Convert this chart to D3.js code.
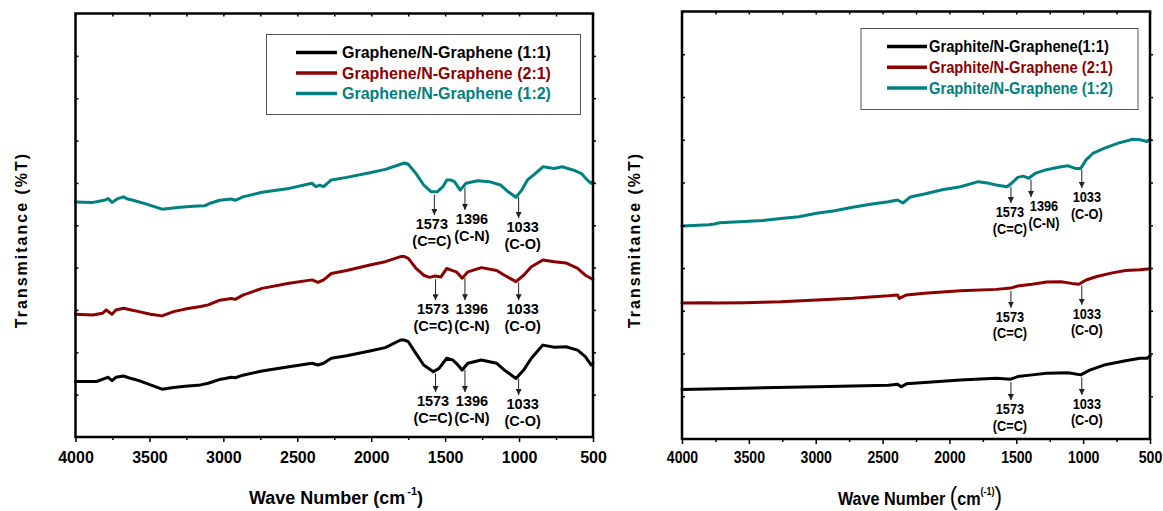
<!DOCTYPE html>
<html>
<head>
<meta charset="utf-8">
<script src="https://cdn.jsdelivr.net/npm/d3@7/dist/d3.min.js"></script>
<style>
html,body{margin:0;padding:0;background:#fff;}
svg{display:block;}
</style>
</head>
<body>
<svg id="chart" width="1163" height="511"></svg>
<script>
// ---------------- data ----------------
const xTickValues = [4000, 3500, 3000, 2500, 2000, 1500, 1000, 500];
const xMinorValues = [3750, 3250, 2750, 2250, 1750, 1250, 750];
const yTickValues = [10, 20, 30, 40, 50, 60, 70, 80, 90];

const leftLegend = ["Graphene/N-Graphene (1:1)", "Graphene/N-Graphene (2:1)", "Graphene/N-Graphene (1:2)"];
const rightLegend = ["Graphite/N-Graphene(1:1)", "Graphite/N-Graphene (2:1)", "Graphite/N-Graphene (1:2)"];

// Left panel: Graphene / N-Graphene (wavenumber cm-1, transmittance a.u.)
const leftBlack = [[4000,13.1],[3857,13.1],[3805,13.8],[3779,14.1],[3753,13.3],[3727,14.1],[3675,14.4],[3623,13.8],[3571,13.3],[3493,12.3],[3415,11.3],[3337,11.7],[3259,12.0],[3154,12.3],[3102,12.7],[3024,13.6],[2946,14.1],[2920,14.0],[2868,14.6],[2738,15.6],[2556,16.6],[2400,17.4],[2361,17.0],[2322,17.4],[2270,18.6],[2166,19.2],[2009,20.3],[1905,21.1],[1801,22.9],[1775,22.9],[1749,22.5],[1697,19.7],[1645,17.0],[1580,15.4],[1541,16.2],[1489,18.6],[1450,18.2],[1424,17.4],[1385,15.8],[1346,17.4],[1255,18.2],[1151,17.4],[1099,15.8],[1021,13.8],[969,15.8],[917,18.6],[839,21.7],[761,21.2],[683,21.3],[604,20.5],[552,19.0],[513,17.0],[500,17.4]];
const leftRed = [[4000,29.0],[3883,28.8],[3818,29.2],[3792,30.0],[3753,29.0],[3727,30.0],[3675,30.4],[3623,30.0],[3571,29.6],[3493,29.0],[3415,28.6],[3337,29.6],[3259,30.2],[3154,30.8],[3102,31.2],[3024,32.3],[2946,32.7],[2920,32.5],[2868,33.5],[2738,35.1],[2556,36.3],[2400,37.1],[2361,36.5],[2322,37.1],[2270,38.6],[2166,39.3],[2009,40.6],[1905,41.4],[1801,42.6],[1775,42.6],[1749,42.2],[1697,39.8],[1645,38.2],[1606,37.7],[1567,38.0],[1528,37.8],[1489,39.8],[1450,39.3],[1424,39.0],[1385,37.5],[1346,39.0],[1255,40.0],[1151,39.3],[1099,38.2],[1021,36.7],[969,38.2],[917,40.2],[839,41.8],[761,41.4],[683,41.1],[604,39.8],[552,38.2],[500,37.2]];
const leftTeal = [[4000,55.5],[3883,55.4],[3805,55.9],[3779,56.3],[3753,55.4],[3714,56.3],[3675,56.7],[3649,56.2],[3610,55.9],[3519,55.0],[3415,53.8],[3310,54.2],[3206,54.5],[3128,54.6],[3089,55.2],[3024,55.9],[2946,56.2],[2920,55.9],[2868,56.7],[2738,57.8],[2556,58.7],[2400,59.9],[2374,59.1],[2348,59.5],[2322,59.1],[2270,60.7],[2166,61.3],[2009,62.4],[1905,63.2],[1801,64.4],[1775,64.7],[1749,64.4],[1697,62.2],[1645,59.5],[1593,57.9],[1554,57.9],[1515,59.1],[1489,60.7],[1463,60.7],[1437,60.3],[1398,58.3],[1359,59.9],[1281,60.5],[1203,60.3],[1125,59.5],[1073,57.9],[1021,56.6],[982,58.3],[943,60.7],[891,62.2],[839,63.8],[761,63.4],[709,63.8],[630,63.0],[578,62.2],[539,60.7],[513,59.9],[500,60.3]];

// Right panel: Graphite / N-Graphene
const rightBlack = [[4000,11.6],[3530,11.9],[2993,12.2],[2456,12.6],[2388,12.8],[2361,12.2],[2321,12.9],[1918,13.8],[1650,14.2],[1542,14.0],[1489,14.6],[1381,15.0],[1274,15.4],[1112,15.5],[1018,15.0],[951,16.1],[844,17.3],[683,18.3],[575,18.9],[522,18.9],[500,19.4]];
const rightRed = [[4000,31.8],[3799,31.9],[3745,31.8],[3530,31.9],[3396,32.0],[3261,32.1],[2993,32.5],[2724,32.9],[2456,33.5],[2388,33.7],[2375,32.9],[2321,33.7],[2187,34.1],[1918,34.7],[1650,35.0],[1542,35.3],[1489,35.8],[1381,36.2],[1274,36.7],[1166,36.8],[1086,36.4],[1032,36.2],[978,37.2],[898,38.0],[790,38.8],[683,39.4],[575,39.6],[500,39.8]];
const rightTeal = [[4000,49.8],[3799,50.1],[3758,50.3],[3718,50.6],[3530,50.9],[3396,51.1],[3261,51.6],[3127,52.0],[2993,52.8],[2858,53.4],[2724,54.2],[2590,54.9],[2456,55.5],[2388,55.9],[2348,55.2],[2294,56.6],[2187,57.3],[2053,58.3],[1918,59.0],[1784,60.2],[1703,59.8],[1650,59.4],[1569,59.0],[1529,60.0],[1489,61.2],[1448,61.5],[1408,61.0],[1354,62.2],[1274,63.0],[1166,63.7],[1112,63.9],[1059,63.3],[1018,63.3],[978,65.3],[924,66.9],[844,68.0],[737,69.2],[629,70.1],[575,70.0],[522,69.6],[500,70.1]];

// Peak annotations: series index (0 black, 1 red, 2 teal), arrow wavenumber, labels, arrow tip value
const leftPeaks = [
  {s:2, at:1573, num:"1573", bond:"(C=C)", tip:52.4},
  {s:2, at:1366, num:"1396", bond:"(C-N)", tip:53.6},
  {s:2, at:1003, num:"1033", bond:"(C-O)", tip:51.7},
  {s:1, at:1565, num:"1573", bond:"(C=C)", tip:32.3},
  {s:1, at:1366, num:"1396", bond:"(C-N)", tip:32.3},
  {s:1, at:1003, num:"1033", bond:"(C-O)", tip:32.3},
  {s:0, at:1565, num:"1573", bond:"(C=C)", tip:10.6},
  {s:0, at:1366, num:"1396", bond:"(C-N)", tip:10.6},
  {s:0, at:1003, num:"1033", bond:"(C-O)", tip:9.9}
];
const rightPeaks = [
  {s:2, at:1540, num:"1573", bond:"(C=C)", tip:55.2},
  {s:2, at:1390, num:"1396", bond:"(C-N)", tip:56.6},
  {s:2, at:1010, num:"1033", bond:"(C-O)", tip:58.7},
  {s:1, at:1540, num:"1573", bond:"(C=C)", tip:30.7},
  {s:1, at:1010, num:"1033", bond:"(C-O)", tip:31.4},
  {s:0, at:1540, num:"1573", bond:"(C=C)", tip:9.1},
  {s:0, at:1010, num:"1033", bond:"(C-O)", tip:10.3}
];

// ---------------- layout / style ----------------
const colors = ["#000000", "#8b0000", "#008080"];
const FONT = "'Liberation Sans', Arial, Helvetica, sans-serif";
// horizontal nudges (px) of peak labels relative to their arrows
const leftLabelShift = {"1573": -2.5, "1396": 7, "1033": 4};
const rightLabelShift = {"1573": -1, "1396": 13, "1033": 5};

const svg = d3.select("#chart");

const defs = svg.append("defs");
defs.append("marker").attr("id","arrow").attr("viewBox","0 0 8 8")
  .attr("refX",8).attr("refY",4).attr("markerWidth",6).attr("markerHeight",6)
  .attr("markerUnits","userSpaceOnUse").attr("orient","auto")
  .append("path").attr("d","M0,0 L8,4 L0,8 Z").attr("fill","#222");

function label(parent, x, y, str, size, sx, anchor, color){
  const g = parent.append("g").attr("transform", `translate(${x},${y}) scale(${sx},1)`);
  return g.append("text").attr("text-anchor", anchor || "middle")
    .attr("font-family", FONT).attr("font-weight","bold").attr("font-size", size)
    .attr("fill", color || "#000").text(str);
}

function valueAt(series, wn){
  for (let i = 0; i < series.length - 1; i++){
    const a = series[i], b = series[i+1];
    if (wn <= a[0] && wn >= b[0]){
      const t = (a[0] - wn) / (a[0] - b[0]);
      return a[1] + t * (b[1] - a[1]);
    }
  }
  return series[series.length-1][1];
}

function drawPanel(cfg){
  const x = d3.scaleLinear().domain([4000, 500]).range([cfg.x0, cfg.x1]);
  const y = d3.scaleLinear().domain([0, 100]).range([cfg.yBot, cfg.yTop]);
  const g = svg.append("g");
  const sx = cfg.sx;

  // curves
  const line = d3.line().x(d => x(d[0])).y(d => y(d[1]));
  cfg.series.forEach((s, i) => {
    g.append("path").datum(s).attr("d", line).attr("fill","none")
      .attr("stroke", colors[i]).attr("stroke-width", 3)
      .attr("stroke-linejoin","round").attr("stroke-linecap","round");
  });

  // axes
  const bottom = g.append("g").attr("transform", `translate(0,${cfg.yBot})`)
    .call(d3.axisBottom(x).tickValues(xTickValues).tickSize(5).tickPadding(cfg.pad).tickFormat(d3.format("d")));
  bottom.select(".domain").remove();
  bottom.selectAll(".tick line").attr("stroke","#000").attr("stroke-width",1.5);
  bottom.selectAll(".tick text").attr("font-family", FONT).attr("font-weight","bold")
    .attr("font-size", 16).attr("fill","#000").attr("transform", `scale(${sx},1)`);
  const bottomMinor = g.append("g").attr("transform", `translate(0,${cfg.yBot})`)
    .call(d3.axisBottom(x).tickValues(xMinorValues).tickSize(3).tickFormat(""));
  bottomMinor.select(".domain").remove();
  bottomMinor.selectAll(".tick line").attr("stroke","#000").attr("stroke-width",1.5);

  const top = g.append("g").attr("transform", `translate(0,${cfg.yTop})`)
    .call(d3.axisTop(x).tickValues(xTickValues.concat(xMinorValues)).tickSize(-3).tickFormat(""));
  top.select(".domain").remove();
  top.selectAll(".tick line").attr("stroke","#000").attr("stroke-width",1.5);

  const left = g.append("g").attr("transform", `translate(${cfg.x0},0)`)
    .call(d3.axisLeft(y).tickValues(yTickValues).tickSize(-3).tickFormat(""));
  left.select(".domain").remove();
  left.selectAll(".tick line").attr("stroke","#000").attr("stroke-width",1.5);

  const right = g.append("g").attr("transform", `translate(${cfg.x1},0)`)
    .call(d3.axisRight(y).tickValues(yTickValues).tickSize(3).tickFormat(""));
  right.select(".domain").remove();
  right.selectAll(".tick line").attr("stroke","#000").attr("stroke-width",1.5);

  g.append("rect").attr("x", cfg.x0).attr("y", cfg.yTop)
    .attr("width", cfg.x1 - cfg.x0).attr("height", cfg.yBot - cfg.yTop)
    .attr("fill","none").attr("stroke","#000").attr("stroke-width", 2.5);

  // peak annotations
  cfg.peaks.forEach(p => {
    const px = x(p.at);
    const y0 = y(valueAt(cfg.series[p.s], p.at)) + 3;
    const y1 = y(p.tip);
    g.append("line").attr("x1", px).attr("x2", px).attr("y1", y0).attr("y2", y1)
      .attr("stroke","#222").attr("stroke-width",1).attr("marker-end","url(#arrow)");
    const tx = px + (cfg.shift[p.num] || 0);
    label(g, tx, y1 + 14, p.num, 14.5, sx);
    label(g, tx, y1 + 30.5, p.bond, 14.5, sx);
  });

  // legend
  const L = cfg.legend;
  g.append("rect").attr("x", L.x).attr("y", L.y).attr("width", L.w).attr("height", L.h)
    .attr("fill","#fff").attr("stroke","#555").attr("stroke-width",1);
  cfg.names.forEach((n, i) => {
    const ry = L.y + L.row0 + i * L.dy;
    g.append("line").attr("x1", L.lx0).attr("x2", L.lx1).attr("y1", ry).attr("y2", ry)
      .attr("stroke", colors[i]).attr("stroke-width", 3.5);
    label(g, L.tx, ry + 5.5, n, 16, L.tsx, "start", colors[i]);
  });

  // y label
  g.append("text").attr("transform", `translate(${cfg.ylx},240) rotate(-90)`)
    .attr("text-anchor","middle").attr("font-family", FONT).attr("font-weight","bold")
    .attr("font-size",16).attr("letter-spacing","2px").attr("fill","#000")
    .text("Transmitance (%T)");

  return {x, y, g};
}

drawPanel({
  x0: 75.5, x1: 593, yTop: 13.5, yBot: 437, sx: 1, pad: 10,
  series: [leftBlack, leftRed, leftTeal], names: leftLegend, peaks: leftPeaks, shift: leftLabelShift,
  legend: {x: 266.5, y: 34.5, w: 314, h: 80, row0: 18, dy: 20.5, lx0: 296, lx1: 337, tx: 342, tsx: 1},
  ylx: 27
});
drawPanel({
  x0: 682, x1: 1150, yTop: 11.5, yBot: 439, sx: 0.88, pad: 8,
  series: [rightBlack, rightRed, rightTeal], names: rightLegend, peaks: rightPeaks, shift: rightLabelShift,
  legend: {x: 861, y: 28.5, w: 277, h: 81, row0: 18, dy: 20.8, lx0: 887, lx1: 927, tx: 929, tsx: 0.92},
  ylx: 640
});

// x-axis titles
const t1 = svg.append("g").attr("transform","translate(336,504)")
  .append("text").attr("text-anchor","middle").attr("font-family", FONT)
  .attr("font-weight","bold").attr("font-size",18).attr("fill","#000");
t1.append("tspan").text("Wave Number (cm");
t1.append("tspan").attr("font-size",11).attr("dy",-9).attr("dx",2).text("-1");
t1.append("tspan").attr("dy",9).text(")");

const t2 = svg.append("g").attr("transform","translate(920,505) scale(0.9,1)")
  .append("text").attr("text-anchor","middle").attr("font-family", FONT)
  .attr("font-weight","bold").attr("font-size",18).attr("fill","#000");
t2.append("tspan").text("Wave Number ");
t2.append("tspan").attr("font-size",25).attr("font-weight","normal").text("(");
t2.append("tspan").text("cm");
t2.append("tspan").attr("font-size",10).attr("dy",-10).text("(-1)");
t2.append("tspan").attr("dy",10).attr("font-size",25).attr("font-weight","normal").text(")");
</script>
</body>
</html>
